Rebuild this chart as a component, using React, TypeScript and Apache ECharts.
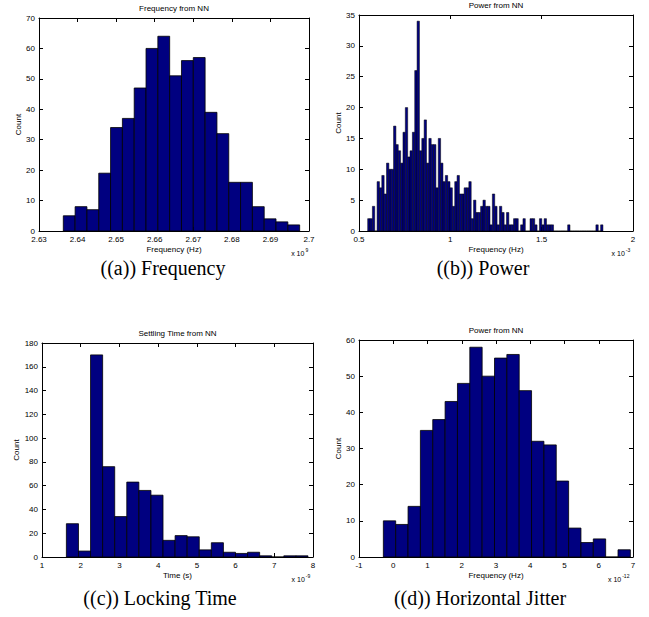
import React, { useEffect, useRef } from "react";
import * as echarts from "echarts";

// ---------- data (bin start, bin width, counts) ----------
const freqBinStart = 2.6363; // x 10^9 Hz
const freqBinWidth = 0.003064;
const freqCounts = [5, 8, 7, 19, 34, 37, 47, 60, 64, 51, 56, 57, 39, 32, 16, 16, 8, 4, 3, 2];

const powerBinStart = 0.5475; // x 10^-3
const powerBinWidth = 0.01288;
const powerCounts = [
  2, 2, 4, 0, 8, 7, 9, 6, 11, 10,
  10, 17, 14, 13, 11, 16, 20, 12, 13, 16,
  26, 34, 13, 15, 18, 11, 15, 14, 14, 7,
  15, 11, 8, 9, 8, 7, 4, 8, 9, 6,
  6, 7, 7, 8, 2, 5, 3, 3, 4, 5,
  4, 4, 1, 6, 4, 1, 4, 3, 1, 3,
  1, 1, 2, 2, 0, 1, 2, 0, 0, 2,
  2, 1, 0, 2, 1, 2, 1, 1, 1, 0,
  0, 0, 0, 0, 0, 1, 0, 0, 0, 0,
  0, 0, 0, 0, 0, 0, 0, 1, 0, 1,
];

const timeBinStart = 1.63; // x 10^-9 s
const timeBinWidth = 0.312;
const timeCounts = [28, 5, 170, 76, 34, 63, 56, 52, 14, 18, 17, 6, 12, 4, 3, 4, 1, 0, 1, 1];

const jitterBinStart = -0.289; // x 10^-12
const jitterBinWidth = 0.3606;
const jitterCounts = [10, 9, 14, 35, 38, 43, 48, 58, 50, 55, 56, 46, 32, 31, 21, 8, 4, 5, 0, 2];

const panelTitles = ["Frequency from NN", "Power from NN", "Settling Time from NN", "Power from NN"];
const xNames = ["Frequency (Hz)", "Frequency (Hz)", "Time (s)", "Frequency (Hz)"];
const exponents = ["9", "-3", "-9", "-12"];
const captions = ["((a)) Frequency", "((b)) Power", "((c)) Locking Time", "((d)) Horizontal Jitter"];

// ---------- layout / style ----------
const SANS = '"Liberation Sans", Arial, Helvetica, sans-serif';
const SERIF = '"Liberation Serif", "Times New Roman", serif';

const grids = [
  { left: 39, top: 18, width: 270, height: 213 },
  { left: 359, top: 15, width: 274, height: 216 },
  { left: 42, top: 343, width: 271, height: 214 },
  { left: 359, top: 340, width: 274, height: 217 },
];
const xRanges = [
  { min: 2.63, max: 2.7, interval: 0.01, dec: 2 },
  { min: 0.5, max: 2, interval: 0.5, dec: 1 },
  { min: 1, max: 8, interval: 1, dec: 0 },
  { min: -1, max: 7, interval: 1, dec: 0 },
];
const yRanges = [
  { min: 0, max: 70, interval: 10 },
  { min: 0, max: 35, interval: 5 },
  { min: 0, max: 180, interval: 20 },
  { min: 0, max: 60, interval: 10 },
];

function bins(start: number, width: number, counts: number[]) {
  return counts.map((c, i) => [start + i * width, start + (i + 1) * width, c]);
}

const datasets = [
  bins(freqBinStart, freqBinWidth, freqCounts),
  bins(powerBinStart, powerBinWidth, powerCounts),
  bins(timeBinStart, timeBinWidth, timeCounts),
  bins(jitterBinStart, jitterBinWidth, jitterCounts),
];

function fmt(v: number, dec: number) {
  return String(parseFloat(v.toFixed(dec)));
}

export default function App() {
  const ref = useRef<HTMLDivElement>(null);
  useEffect(() => {
    if (!ref.current) return;
    const chart = echarts.init(ref.current, undefined, { renderer: "svg" });

    const xAxis: any[] = [];
    const yAxis: any[] = [];
    const series: any[] = [];
    const graphic: any[] = [];

    grids.forEach((g, i) => {
      const xr = xRanges[i];
      const yr = yRanges[i];
      const common = {
        type: "value",
        gridIndex: i,
        splitLine: { show: false },
        axisLine: { show: true, onZero: false, lineStyle: { color: "#000", width: 1 } },
        axisTick: { show: true, inside: true, length: 4, lineStyle: { color: "#000", width: 1 } },
      };
      xAxis.push({
        ...common,
        position: "bottom",
        min: xr.min,
        max: xr.max,
        interval: xr.interval,
        axisLabel: {
          fontSize: 8,
          lineHeight: 8,
          fontFamily: SANS,
          color: "#000",
          margin: 4,
          showMinLabel: true,
          showMaxLabel: true,
          formatter: (v: number) => fmt(v, xr.dec),
        },
        name: xNames[i],
        nameLocation: "middle",
        nameGap: 14,
        nameTextStyle: { fontSize: 8, fontFamily: SANS, color: "#000" },
      });
      xAxis.push({
        ...common,
        position: "top",
        min: xr.min,
        max: xr.max,
        interval: xr.interval,
        axisLabel: { show: false },
      });
      yAxis.push({
        ...common,
        position: "left",
        min: yr.min,
        max: yr.max,
        interval: yr.interval,
        axisLabel: { fontSize: 8, lineHeight: 7, fontFamily: SANS, color: "#000", margin: 4 },
        name: "Count",
        nameLocation: "middle",
        nameGap: 17,
        nameTextStyle: { fontSize: 8, fontFamily: SANS, color: "#000" },
      });
      yAxis.push({
        ...common,
        position: "right",
        min: yr.min,
        max: yr.max,
        interval: yr.interval,
        axisLabel: { show: false },
      });

      const lw = i === 1 ? 0.5 : 0.8;
      series.push({
        type: "custom",
        xAxisIndex: 2 * i,
        yAxisIndex: 2 * i,
        data: datasets[i],
        encode: { x: [0, 1], y: 2 },
        clip: true,
        renderItem: (params: any, api: any) => {
          const x0 = api.value(0);
          const x1 = api.value(1);
          const c = api.value(2);
          const p0 = api.coord([x0, c]);
          const p1 = api.coord([x1, 0]);
          return {
            type: "rect",
            shape: { x: p0[0], y: p0[1], width: p1[0] - p0[0], height: p1[1] - p0[1] },
            style: { fill: "#000080", stroke: "#000", lineWidth: lw },
          };
        },
      });

      // panel title
      graphic.push({
        type: "text",
        x: g.left + g.width / 2,
        y: g.top - 10,
        style: {
          text: panelTitles[i],
          font: `8px ${SANS}`,
          fill: "#000",
          align: "center",
          verticalAlign: "middle",
        },
      });
      // exponent label  "x 10^n"
      const ex = g.left + g.width;
      const ey = g.top + g.height + 22;
      graphic.push({
        type: "text",
        x: ex - (exponents[i].length * 3.6 + 1),
        y: ey,
        style: { text: "x 10", font: `7px ${SANS}`, fill: "#000", align: "right", verticalAlign: "middle" },
      });
      graphic.push({
        type: "text",
        x: ex - (exponents[i].length * 3.6),
        y: ey - 3,
        style: { text: exponents[i], font: `5px ${SANS}`, fill: "#000", align: "left", verticalAlign: "middle" },
      });
    });

    const capPos = [
      { x: 163, y: 268 },
      { x: 483, y: 268 },
      { x: 160, y: 598 },
      { x: 480, y: 598 },
    ];
    captions.forEach((t, i) => {
      graphic.push({
        type: "text",
        x: capPos[i].x,
        y: capPos[i].y,
        style: { text: t, font: `20px ${SERIF}`, fill: "#000", align: "center", verticalAlign: "middle" },
      });
    });

    chart.setOption({
      animation: false,
      backgroundColor: "#fff",
      grid: grids.map((g) => ({ ...g, containLabel: false })),
      xAxis,
      yAxis,
      series,
      graphic,
    });
    return () => chart.dispose();
  }, []);

  return (
    <div
      ref={ref}
      style={{ position: "absolute", left: 0, top: 0, width: 649, height: 617, background: "#fff" }}
    />
  );
}
